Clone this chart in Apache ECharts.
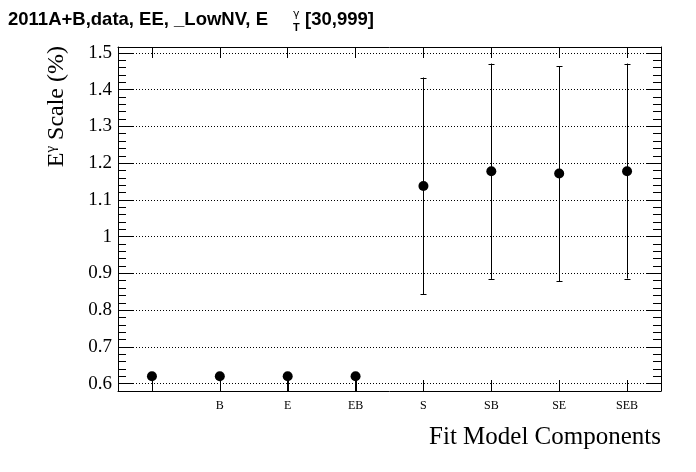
<!DOCTYPE html>
<html><head><meta charset="utf-8">
<script src="https://cdn.jsdelivr.net/npm/echarts@6/dist/echarts.min.js"></script>
<style>html,body{margin:0;padding:0;background:#fff}#c{width:696px;height:472px}</style>
</head><body><div id="c"></div>
<script>
// ---- data ----
const categories = ['', 'B', 'E', 'EB', 'S', 'SB', 'SE', 'SEB'];
const scaleValues = [0.620, 0.620, 0.620, 0.620, 1.138, 1.178, 1.172, 1.178];
const errLow  = [0.300, 0.300, 0.300, 0.300, 0.295, 0.293, 0.294, 0.292];
const errHigh = [0.000, 0.000, 0.000, 0.000, 0.295, 0.293, 0.291, 0.293];
const yMin = 0.58, yMax = 1.516;

const titleMain = '2011A+B,data, EE, _LowNV, E';
const titleSup = 'γ';
const titleSub = 'T';
const titleTail = '[30,999]';
const yName = 'Scale (%)';
const xName = 'Fit Model Components';

// ---- build ----
const serif = '"Liberation Serif", "Times New Roman", serif';
const sans = '"Liberation Sans", Arial, sans-serif';

const pointData = categories.map((c, i) => [i, scaleValues[i]]);
const errData = categories.map((c, i) => [i, scaleValues[i], scaleValues[i] - errLow[i], scaleValues[i] + errHigh[i]]);

function renderErr(params, api) {
  const i = api.value(0);
  const v = api.value(1), lo = api.value(2), hi = api.value(3);
  const pLo = api.coord([i, lo]);
  const pHi = api.coord([i, hi]);
  const cs = params.coordSys;
  const top = cs.y, bot = cs.y + cs.height;
  const x = Math.round(pLo[0]) + 0.5;
  const yLo = Math.min(pLo[1], bot);
  const yHi = Math.max(pHi[1], top);
  const st = { stroke: '#000', lineWidth: 1 };
  const children = [{ type: 'line', shape: { x1: x, y1: yLo, x2: x, y2: yHi }, style: st }];
  const cw = 3;
  if (lo < v && pLo[1] <= bot) {
    const y = Math.round(pLo[1]) + 0.5;
    children.push({ type: 'line', shape: { x1: x - cw, y1: y, x2: x + cw, y2: y }, style: st });
  }
  if (hi > v && pHi[1] >= top) {
    const y = Math.round(pHi[1]) + 0.5;
    children.push({ type: 'line', shape: { x1: x - cw, y1: y, x2: x + cw, y2: y }, style: st });
  }
  return { type: 'group', children };
}

function yAxisFrame(pos, withLabels) {
  return {
    type: 'value', position: pos, min: yMin, max: yMax, splitNumber: 9,
    axisLine: { show: true, lineStyle: { color: '#000', width: 1 } },
    axisTick: { show: true, inside: true, length: 15, lineStyle: { color: '#000' } },
    minorTick: { show: true, splitNumber: 5, length: 8, lineStyle: { color: '#000', width: 1 } },
    axisLabel: {
      show: withLabels, color: '#000', fontFamily: serif, fontSize: 19, margin: 6,
      showMinLabel: false, showMaxLabel: false,
      formatter: v => String(parseFloat(v.toFixed(2)))
    },
    splitLine: { show: withLabels, lineStyle: { color: '#000', type: [1, 2], width: 1 } },
    minorSplitLine: { show: false }
  };
}
function xAxisFrame(pos, withLabels) {
  return {
    type: 'category', data: categories, position: pos, boundaryGap: true,
    axisLine: { show: true, lineStyle: { color: '#000', width: 1 } },
    axisTick: { show: true, inside: true, alignWithLabel: true, interval: 0, length: 11, lineStyle: { color: '#000' } },
    axisLabel: { show: withLabels, interval: 0, color: '#000', fontFamily: serif, fontSize: 12, margin: 9 },
    splitLine: { show: false }
  };
}

const chart = echarts.init(document.getElementById('c'));
chart.setOption({
  animation: false,
  grid: { left: 118, right: 35, top: 47, bottom: 81 },
  xAxis: [xAxisFrame('bottom', true), xAxisFrame('top', false)],
  yAxis: [yAxisFrame('left', true), yAxisFrame('right', false)],
  series: [
    {
      type: 'custom', name: 'err', xAxisIndex: 0, yAxisIndex: 0,
      renderItem: renderErr, data: errData, z: 2, silent: true
    },
    {
      type: 'scatter', name: 'scale', xAxisIndex: 0, yAxisIndex: 0,
      data: pointData, symbol: 'circle', symbolSize: 10,
      itemStyle: { color: '#000', opacity: 1 }, z: 3, silent: true
    }
  ],
  graphic: [
    { type: 'text', x: 8, y: 20, style: { text: titleMain, font: 'bold 18.5px ' + sans, fill: '#000', verticalAlign: 'middle', align: 'left' } },
    { type: 'text', x: 293, y: 14, style: { text: titleSup, font: '11px "DejaVu Sans"', fill: '#000', verticalAlign: 'middle', align: 'left' } },
    { type: 'text', x: 293, y: 28, style: { text: titleSub, font: 'bold 11px ' + sans, fill: '#000', verticalAlign: 'middle', align: 'left' } },
    { type: 'text', x: 305, y: 20, style: { text: titleTail, font: 'bold 18.5px ' + sans, fill: '#000', verticalAlign: 'middle', align: 'left' } },
    {
      type: 'text', x: 57, y: 46, rotation: Math.PI / 2,
      style: {
        text: '{e|E}{g|γ}{s| ' + yName + '}',
        align: 'right', verticalAlign: 'middle',
        rich: {
          e: { fontFamily: serif, fontSize: 24, fill: '#000', lineHeight: 26 },
          g: { fontFamily: serif, fontSize: 15, fill: '#000', verticalAlign: 'top', lineHeight: 26 },
          s: { fontFamily: serif, fontSize: 24, fill: '#000', lineHeight: 26 }
        }
      }
    },
    { type: 'text', x: 661, y: 437, style: { text: xName, font: '25px ' + serif, fill: '#000', align: 'right', verticalAlign: 'middle' } }
  ]
});
</script>
</body></html>
